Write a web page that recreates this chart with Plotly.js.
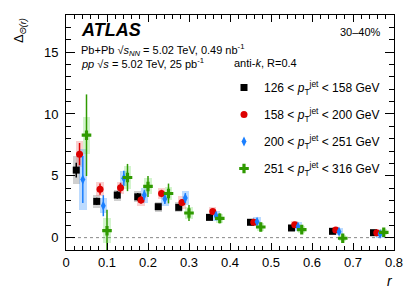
<!DOCTYPE html>
<html><head><meta charset="utf-8">
<script src="https://cdn.plot.ly/plotly-3.0.1.min.js"></script>
<style>html,body{margin:0;padding:0;background:#fff;}#plot{width:415px;height:298px;}</style>
</head><body><div id="plot"></div>
<script>
// r bin centres and per-series horizontal offsets
const rBins = [0.025, 0.075, 0.125, 0.175, 0.225, 0.275, 0.35, 0.45, 0.55, 0.65, 0.75];
const seriesNames = ["126 < <i>p</i><sub>T</sub><sup>jet</sup> < 158 GeV",
                     "158 < <i>p</i><sub>T</sub><sup>jet</sup> < 200 GeV",
                     "200 < <i>p</i><sub>T</sub><sup>jet</sup> < 251 GeV",
                     "251 < <i>p</i><sub>T</sub><sup>jet</sup> < 316 GeV"];
const offsets = [0.0, 0.008, 0.016, 0.025];

const y126 = [5.46, 2.93, 3.44, 3.30, 2.50, 2.45, 1.64, 1.24, 0.78, 0.51, 0.40];
const stat126 = [0.6, 0.3, 0.3, 0.3, 0.2, 0.2, 0.15, 0.12, 0.1, 0.1, 0.1];
const sys126 = [1.15, 0.5, 0.45, 0.45, 0.4, 0.4, 0.3, 0.25, 0.25, 0.2, 0.2];

const y158 = [6.75, 3.92, 4.03, 3.04, 3.57, 2.85, 2.12, 1.24, 1.05, 0.62, 0.40];
const stat158 = [0.9, 0.45, 0.4, 0.3, 0.3, 0.25, 0.2, 0.15, 0.12, 0.12, 0.12];
const sys158 = [1.05, 0.55, 0.5, 0.5, 0.45, 0.5, 0.35, 0.3, 0.3, 0.25, 0.25];

const y200 = [4.70, 2.58, 4.80, 3.44, 3.12, 3.20, 1.77, 1.29, 0.89, 0.48, 0.30];
const stat200 = [1.9, 0.85, 0.6, 0.4, 0.4, 0.4, 0.3, 0.2, 0.15, 0.15, 0.12];
const sys200 = [2.45, 0.6, 0.6, 0.6, 0.55, 0.6, 0.4, 0.35, 0.35, 0.3, 0.3];

const y251 = [8.28, 0.56, 4.86, 4.14, 3.57, 1.99, 1.56, 0.86, 0.65, -0.05, 0.43];
const stat251 = [3.3, 1.7, 1.1, 0.85, 0.8, 0.65, 0.4, 0.35, 0.3, 0.3, 0.3];
const sys251 = [1.5, 1.0, 0.95, 0.65, 0.5, 0.5, 0.35, 0.3, 0.3, 0.25, 0.25];

const xTickVals = [0, 0.1, 0.2, 0.3, 0.4, 0.5, 0.6, 0.7, 0.8];
const xTickText = ["0", "0.1", "0.2", "0.3", "0.4", "0.5", "0.6", "0.7", "0.8"];
const yTickVals = [0, 5, 10, 15];
const yTickText = ["0", "5", "10", "15"];

const series = [
  {y: y126, stat: stat126, sys: sys126, color: "#000000", box: "rgba(150,150,150,0.45)", symbol: "square", size: 7},
  {y: y158, stat: stat158, sys: sys158, color: "#dd0000", box: "rgba(240,120,120,0.35)", symbol: "circle", size: 7},
  {y: y200, stat: stat200, sys: sys200, color: "#1a7fff", box: "rgba(80,160,255,0.38)", symbol: "diamond-tall", size: 7},
  {y: y251, stat: stat251, sys: sys251, color: "#2f9a00", box: "rgba(110,220,90,0.30)", symbol: "cross", size: 8}
];

const traces = [];
series.forEach((s, i) => {
  const xs = rBins.map(r => r + offsets[i]);
  traces.push({
    type: "bar", x: xs, y: s.sys.map(v => 2 * v), base: s.y.map((v, k) => v - s.sys[k]),
    width: 0.018, marker: {color: s.box, line: {width: 0}}, showlegend: false, hoverinfo: "skip"
  });
});
series.forEach((s, i) => {
  const xs = rBins.map(r => r + offsets[i]);
  traces.push({
    type: "scatter", mode: "markers", x: xs, y: s.y, name: seriesNames[i], legendgroup: "g" + i,
    marker: {color: s.color, symbol: s.symbol, size: s.size, line: {width: 0}},
    error_y: {type: "data", array: s.stat, color: s.color, thickness: 1.5, width: 0}
  });
});

const W = 328, H = 235, L = 66, T = 15;
const px = x => (x - L) / W;
const py = y => (T + H - y) / H;
const font = "Liberation Sans, Arial, Helvetica, sans-serif";

const layout = {
  width: 415, height: 298,
  margin: {l: 66, r: 21, t: 15, b: 48},
  paper_bgcolor: "#fff", plot_bgcolor: "#fff",
  barmode: "overlay", bargap: 0,
  showlegend: true,
  font: {family: font, color: "#000", size: 12},
  xaxis: {
    range: [0, 0.8], tickvals: xTickVals, ticktext: xTickText,
    ticks: "inside", ticklen: 7, tickwidth: 1, tickcolor: "#000",
    showline: true, linecolor: "#000", linewidth: 1, mirror: "allticks",
    showgrid: false, zeroline: false, tickfont: {size: 13, family: font},
    minor: {dtick: 0.02, ticks: "inside", ticklen: 4, tickcolor: "#000", showgrid: false}
  },
  yaxis: {
    range: [-1, 18], tickvals: yTickVals, ticktext: yTickText,
    ticks: "inside", ticklen: 9, tickwidth: 1, tickcolor: "#000",
    showline: true, linecolor: "#000", linewidth: 1, mirror: "allticks",
    showgrid: false, zeroline: false, tickfont: {size: 13, family: font},
    ticklabelstandoff: 4,
    minor: {dtick: 1, ticks: "inside", ticklen: 5, tickcolor: "#000", showgrid: false}
  },
  legend: {
    x: px(224), y: py(73), xanchor: "left", yanchor: "top",
    bgcolor: "rgba(0,0,0,0)", font: {size: 12, family: font},
    tracegroupgap: 8
  },
  shapes: [{type: "line", xref: "paper", x0: 0, x1: 1, yref: "y", y0: 0, y1: 0,
            line: {color: "#888", width: 1, dash: "dot"}, layer: "below"}],
  annotations: [
    {xref: "paper", yref: "paper", x: px(79), y: py(30), xanchor: "left", yanchor: "middle",
     text: "<b><i>ATLAS</i></b>", showarrow: false, font: {size: 18, family: font}},
    {xref: "paper", yref: "paper", x: px(79), y: py(50), xanchor: "left", yanchor: "middle",
     text: "Pb+Pb √<i>s</i><sub><i>NN</i></sub> = 5.02 TeV, 0.49 nb<sup>-1</sup>", showarrow: false, font: {size: 11, family: font}},
    {xref: "paper", yref: "paper", x: px(79), y: py(63), xanchor: "left", yanchor: "middle",
     text: "<i>pp</i> √<i>s</i> = 5.02 TeV, 25 pb<sup>-1</sup>", showarrow: false, font: {size: 11, family: font}},
    {xref: "paper", yref: "paper", x: px(232), y: py(63), xanchor: "left", yanchor: "middle",
     text: "anti-<i>k</i>, R=0.4", showarrow: false, font: {size: 11, family: font}},
    {xref: "paper", yref: "paper", x: px(383), y: py(32), xanchor: "right", yanchor: "middle",
     text: "30–40%", showarrow: false, font: {size: 11, family: font}},
    {xref: "paper", yref: "paper", x: px(20), y: py(30), xanchor: "center", yanchor: "middle", textangle: -90,
     text: "Δ<sub><i>Θ(r)</i></sub>", showarrow: false, font: {size: 13, family: font}},
    {xref: "paper", yref: "paper", x: px(390), y: py(281), xanchor: "center", yanchor: "middle",
     text: "<i>r</i>", showarrow: false, font: {size: 14, family: font}}
  ]
};

Plotly.newPlot("plot", traces, layout, {staticPlot: true, displayModeBar: false});
</script></body></html>
